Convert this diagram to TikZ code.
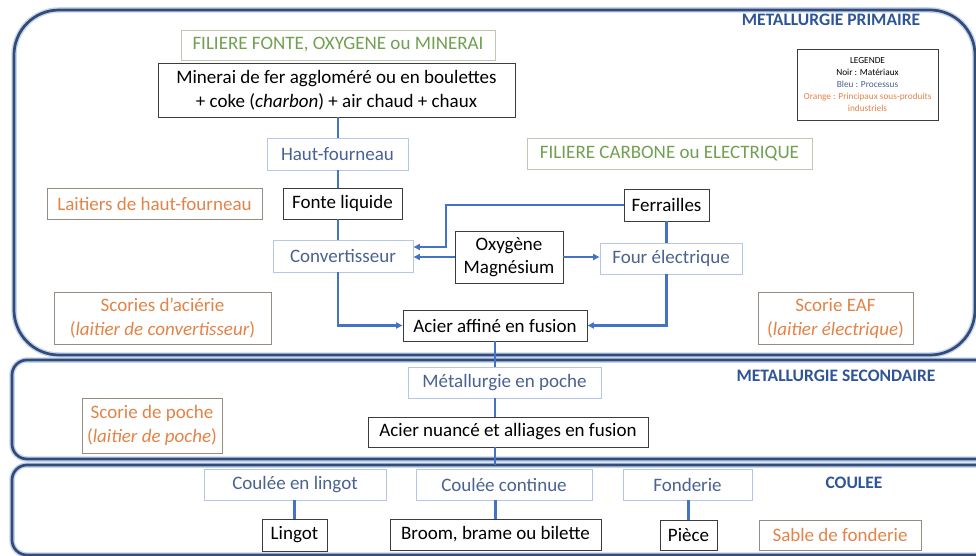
\documentclass[tikz,border=0pt]{standalone}
\usepackage{fontspec}
\setmainfont{Carlito}
\usetikzlibrary{arrows.meta,calc}
\definecolor{regionC}{RGB}{52,74,120}
\definecolor{haloC}{RGB}{195,214,238}
\definecolor{titleC}{RGB}{47,85,151}
\definecolor{connC}{RGB}{68,114,196}
\definecolor{procT}{RGB}{74,98,145}
\definecolor{procB}{RGB}{180,199,231}
\definecolor{grT}{RGB}{112,160,80}
\definecolor{grB}{RGB}{190,200,180}
\definecolor{orT}{RGB}{226,132,72}
\definecolor{orB}{RGB}{150,140,130}
\definecolor{matB}{RGB}{60,60,60}
\begin{document}
\begin{tikzpicture}[x=1pt,y=-1pt,
  region/.style={draw=regionC, line width=2.7pt, preaction={draw=haloC, line width=5.5pt}},
  basebox/.style={inner sep=2pt, align=center, line width=0.9pt, font=\fontsize{19}{24}\selectfont},
  mat/.style={basebox, draw=matB, text=black},
  proc/.style={basebox, draw=procB, text=procT},
  byp/.style={basebox, draw=orB, text=orT},
  fil/.style={basebox, draw=grB, text=grT},
  sect/.style={font=\fontsize{17.5}{20}\selectfont\bfseries, text=titleC},
  conn/.style={draw=connC, line width=2.3pt},
  arr/.style={conn, -{Triangle[length=6.5pt,width=6pt]}}
]
\useasboundingbox (0,0) rectangle (976,556);
\fill[white] (0,0) rectangle (976,556);
\begin{scope}
\clip (0,0) rectangle (976,556);
\draw[region, rounded corners=45pt] (14,10) rectangle (975,355);
\draw[region, rounded corners=15pt] (12,360) rectangle (995,459);
\draw[region, rounded corners=15pt] (12,465) rectangle (995,555);
\end{scope}

% section titles
\node[sect] (tprim) at (831,20) {METALLURGIE PRIMAIRE};
\node[sect] (tsec) at (836,376) {METALLURGIE SECONDAIRE};
\node[sect] (tcoul) at (854,483) {COULEE};

% legend
\node[draw=matB, line width=0.9pt, minimum width=141pt, minimum height=71pt, align=center,
  font=\fontsize{9.3}{11.8}\selectfont, inner sep=1pt] (leg) at (867.5,84.5)
  {LEGENDE\\Noir : Matériaux\\\textcolor{procT}{Bleu : Processus}\\\textcolor{orT}{Orange : Principaux sous-produits}\\\textcolor{orT}{industriels}};

% primary
\node[fil, minimum width=314pt, minimum height=30pt] (filf) at (338,45) {FILIERE FONTE, OXYGENE ou MINERAI};
\node[mat, minimum width=357pt, minimum height=54pt, fill=white] (minerai) at (336.5,90)
  {Minerai de fer aggloméré ou en boulettes\\+ coke (\textit{charbon}) + air chaud + chaux};
\node[proc, minimum width=141pt, minimum height=32pt] (haut) at (337.5,154) {Haut-fourneau};
\node[byp, minimum width=215pt, minimum height=31pt] (laitiers) at (154.5,203.5) {Laitiers de haut-fourneau};
\node[mat, minimum width=119pt, minimum height=31pt] (fonte) at (342.5,203.5) {Fonte liquide};
\node[proc, minimum width=140pt, minimum height=32pt] (conv) at (343,256) {Convertisseur};
\node[mat, minimum width=108pt, minimum height=52pt, font=\fontsize{19}{22.5}\selectfont] (oxy) at (509,257) {Oxygène\\Magnésium};
\node[proc, minimum width=142pt, minimum height=31pt] (four) at (671,258.5) {Four électrique};
\node[mat, minimum width=85pt, minimum height=32pt] (ferr) at (666.5,205) {Ferrailles};
\node[fil, minimum width=285pt, minimum height=31pt] (filc) at (669.5,153.5) {FILIERE CARBONE ou ELECTRIQUE};
\node[byp, minimum width=217pt, minimum height=52pt] (scories) at (162.5,318) {Scories d'aciérie\\(\textit{laitier de convertisseur})};
\node[mat, minimum width=184pt, minimum height=31pt] (acier) at (495,325.5) {Acier affiné en fusion};
\node[byp, minimum width=155pt, minimum height=52pt] (eaf) at (835.5,318) {Scorie EAF\\(\textit{laitier électrique})};

% secondary
\node[proc, minimum width=193pt, minimum height=31pt] (poche) at (504.5,382.5) {Métallurgie en poche};
\node[byp, minimum width=140pt, minimum height=55pt] (scpoche) at (152,425.5) {Scorie de poche\\(\textit{laitier de poche})};
\node[mat, minimum width=280pt, minimum height=30pt] (nuance) at (508,432) {Acier nuancé et alliages en fusion};

% coulee
\node[proc, minimum width=182pt, minimum height=31pt] (lingotp) at (295,484.5) {Coulée en lingot};
\node[proc, minimum width=176pt, minimum height=31pt] (cont) at (504,484.5) {Coulée continue};
\node[proc, minimum width=129pt, minimum height=31pt] (fond) at (687.5,484.5) {Fonderie};
\node[mat, minimum width=65pt, minimum height=32pt] (lingot) at (294.5,535) {Lingot};
\node[mat, minimum width=211pt, minimum height=31pt] (broom) at (495.5,534.5) {Broom, brame ou bilette};
\node[mat, minimum width=57pt, minimum height=30pt] (piece) at (688.5,535) {Pièce};
\node[byp, minimum width=162pt, minimum height=30pt] (sable) at (840,535) {Sable de fonderie};

% connectors
\coordinate (xl) at (338,0);
\coordinate (xr) at (666.5,0);
\coordinate (xm) at (495,0);
\coordinate (fbend) at (446,0);
\coordinate (coultop) at (495,465);
\draw[conn] (xl |- minerai.south) -- (xl |- haut.north);
\draw[conn] (xl |- haut.south) -- (xl |- fonte.north);
\draw[conn] (xl |- fonte.south) -- (xl |- conv.north);
\draw[arr] (xl |- conv.south) |- (acier.west);
\draw[arr] (xr |- four.south) |- (acier.east);
\draw[conn] (ferr.south) -- (ferr.south |- four.north);
\draw[arr] (ferr.west) -| ($(fbend |- conv.east)+(0,-9)$) -- ($(conv.east)+(0,-9)$);
\draw[arr] (oxy.west) -- (oxy.west -| conv.east);
\draw[arr] (oxy.east) -- (oxy.east -| four.west);
\draw[conn] (xm |- acier.south) -- (xm |- poche.north);
\draw[conn] (xm |- poche.south) -- (xm |- nuance.north);
\draw[conn] (xm |- nuance.south) -- (coultop);
\draw[conn] (lingot.north) -- (lingot.north |- lingotp.south);
\draw[conn] (broom.north) -- (broom.north |- cont.south);
\draw[conn] (piece.north) -- (piece.north |- fond.south);
\end{tikzpicture}
\end{document}
